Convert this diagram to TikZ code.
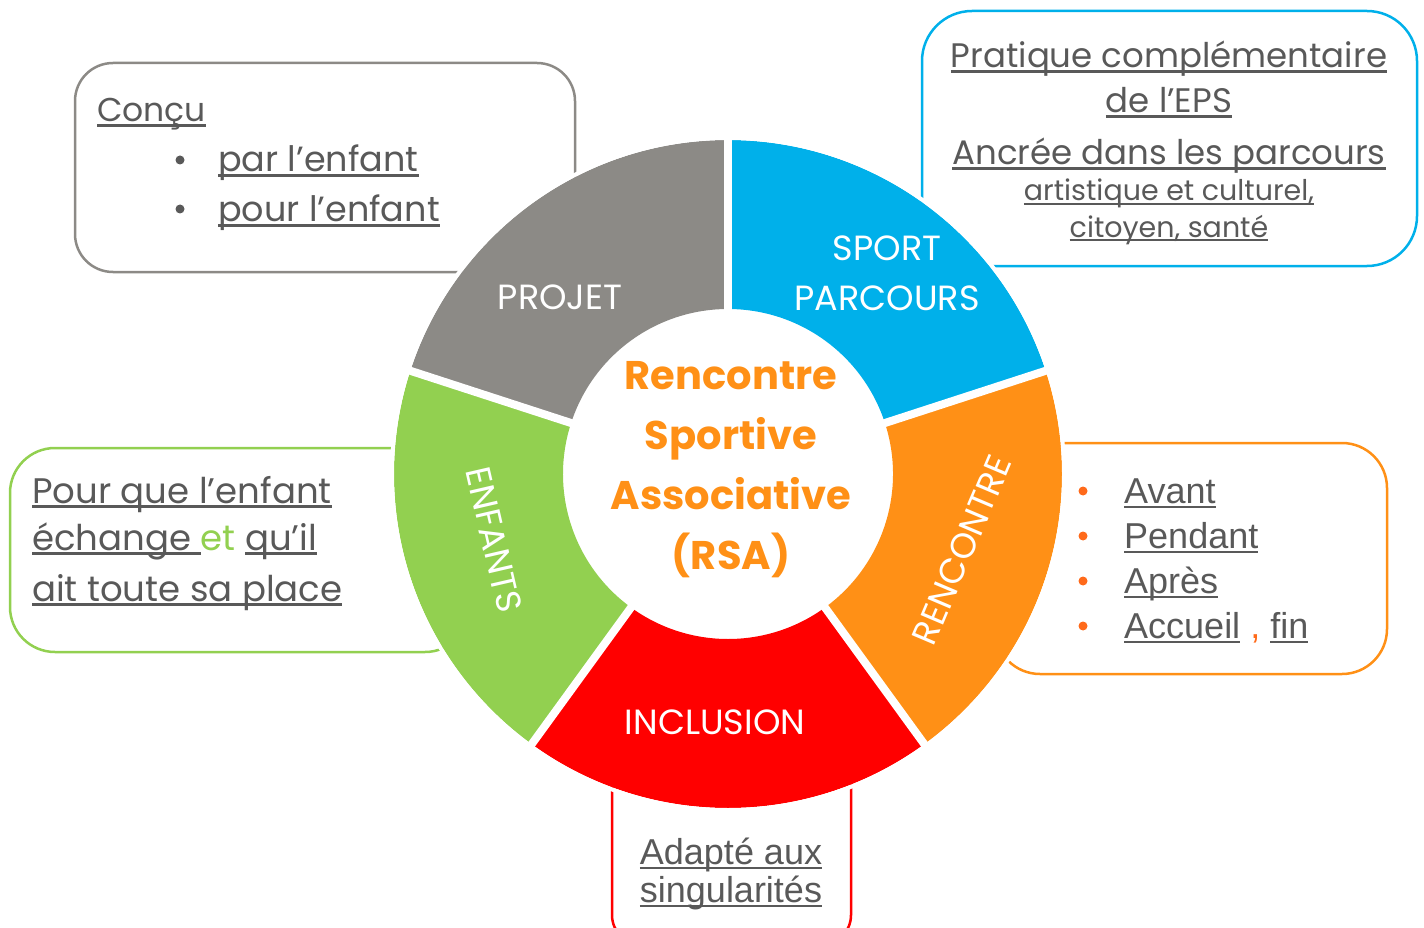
\documentclass[tikz,border=0pt]{standalone}
\usepackage{fontspec}
\setmainfont{Poppins}
\newfontfamily\arialfont{Liberation Sans}
\definecolor{projgray}{HTML}{8C8A86}
\definecolor{sportblue}{HTML}{00B0EA}
\definecolor{rencorange}{HTML}{FF9016}
\definecolor{inclred}{HTML}{FF0000}
\definecolor{enfgreen}{HTML}{92D050}
\definecolor{txtgray}{HTML}{595959}
\definecolor{dotorange}{HTML}{FF6A1A}
\newcommand{\souligne}[1]{\setbox0\hbox{#1}\rlap{\rule[-0.14em]{\wd0}{0.07em}}\box0\relax}

\begin{document}
\begin{tikzpicture}[x=1pt, y=-1pt,
    infobox/.style={line width=2.5pt},
    boxtext/.style={text=txtgray, inner sep=0pt, anchor=base west},
    wheellabel/.style={text=white, inner sep=0pt, font=\fontsize{35}{50}\selectfont},
    dot/.style={circle, fill=txtgray, inner sep=0pt, minimum size=9pt}]
    \useasboundingbox (0,0) rectangle (1424,928);
    \clip (0,0) rectangle (1424,928);

    % Boxes behind the wheel
    \draw[infobox, draw=projgray, rounded corners=38pt] (75,63) rectangle (575,272);
    \draw[infobox, draw=sportblue, rounded corners=50pt] (922,11) rectangle (1417,266);
    \draw[infobox, draw=enfgreen, rounded corners=45pt] (10,448) rectangle (470,652);
    \draw[infobox, draw=rencorange, rounded corners=45pt] (995,443) rectangle (1387,674);
    \draw[infobox, draw=inclred, rounded corners=30pt] (612,700) rectangle (851,945);

    % Wheel
    \begin{scope}[shift={(728,474)}, y=1pt]
        \fill[sportblue] (18:334) arc (18:90:334) -- (90:165) arc (90:18:165) -- cycle;
        \fill[projgray] (90:334) arc (90:162:334) -- (162:165) arc (162:90:165) -- cycle;
        \fill[enfgreen] (162:334) arc (162:234:334) -- (234:165) arc (234:162:165) -- cycle;
        \fill[inclred] (234:334) arc (234:306:334) -- (306:165) arc (306:234:165) -- cycle;
        \fill[rencorange] (306:334) arc (306:378:334) -- (378:165) arc (378:306:165) -- cycle;
        \foreach \a in {18,90,162,234,306}
            \draw[white, line width=8pt] (\a:150) -- (\a:345);
        \draw[white, line width=4pt] (0,0) circle (336);
    \end{scope}

    % Wheel labels
    \node[wheellabel] (projet) at (560,297) {PROJET};
    \node[wheellabel, align=center] (sport) at (887,273) {SPORT\\PARCOURS};
    \node[wheellabel, rotate=67] (rencontre) at (962,550) {RENCONTRE};
    \node[wheellabel] (inclusion) at (715,722) {INCLUSION};
    \node[wheellabel, rotate=-77] (enfants) at (494,540) {ENFANTS};

    % Centre
    \node[text=rencorange, inner sep=0pt, align=center, font=\fontsize{40}{60}\selectfont\bfseries] (rsa) at (731,470)
        {Rencontre\\Sportive\\Associative\\(RSA)};

    % Projet box
    \node[boxtext, font=\fontsize{33}{40}\selectfont] (concu) at (97,122) {\souligne{Conçu}};
    \node[dot] (dot-1) at (180,160) {};
    \node[dot] (dot-2) at (180,209) {};
    \node[boxtext, font=\fontsize{35}{40}\selectfont] (par) at (218,172) {\souligne{par l’enfant}};
    \node[boxtext, font=\fontsize{35}{40}\selectfont] (pour) at (218,222) {\souligne{pour l’enfant}};

    % Sport box
    \node[boxtext, anchor=base, font=\fontsize{34}{40}\selectfont] (pratique) at (1169,68) {\souligne{Pratique complémentaire}};
    \node[boxtext, anchor=base, font=\fontsize{34}{40}\selectfont] (eps) at (1169,113) {\souligne{de l’EPS}};
    \node[boxtext, anchor=base, font=\fontsize{34}{40}\selectfont] (ancree) at (1169,165) {\souligne{Ancrée dans les parcours}};
    \node[boxtext, anchor=base, font=\fontsize{28.5}{30}\selectfont] (artistique) at (1169,201) {\souligne{artistique et culturel,}};
    \node[boxtext, anchor=base, font=\fontsize{28.5}{30}\selectfont] (citoyen) at (1169,237) {\souligne{citoyen, santé}};

    % Enfants box
    \node[boxtext, font=\fontsize{35.5}{40}\selectfont] (pourque) at (32,503) {\souligne{Pour que l’enfant}};
    \node[boxtext, font=\fontsize{35.5}{40}\selectfont] (echange) at (32,550)
        {\souligne{échange }{\color{enfgreen}et} \souligne{qu’il}};
    \node[boxtext, font=\fontsize{35.5}{40}\selectfont] (place) at (32,601) {\souligne{ait toute sa place}};

    % Rencontre box
    \foreach \y/\t [count=\i] in {503/Avant, 548/Pendant, 593/Après} {
        \node[dot, fill=dotorange] (odot-\i) at (1083,\y-12) {};
        \node[boxtext, font=\arialfont\fontsize{36}{40}\selectfont] (item-\i) at (1124,\y) {\souligne{\t}};
    }
    \node[dot, fill=dotorange] (odot-4) at (1083,626) {};
    \node[boxtext, font=\arialfont\fontsize{36}{40}\selectfont] (item-4) at (1124,638)
        {\souligne{Accueil} {\color{dotorange},} \souligne{fin}};

    % Inclusion box
    \node[boxtext, anchor=base, font=\arialfont\fontsize{36}{40}\selectfont] (adapte) at (731,864) {\souligne{Adapté aux}};
    \node[boxtext, anchor=base, font=\arialfont\fontsize{36}{40}\selectfont] (singul) at (731,902) {\souligne{singularités}};
\end{tikzpicture}
\end{document}
